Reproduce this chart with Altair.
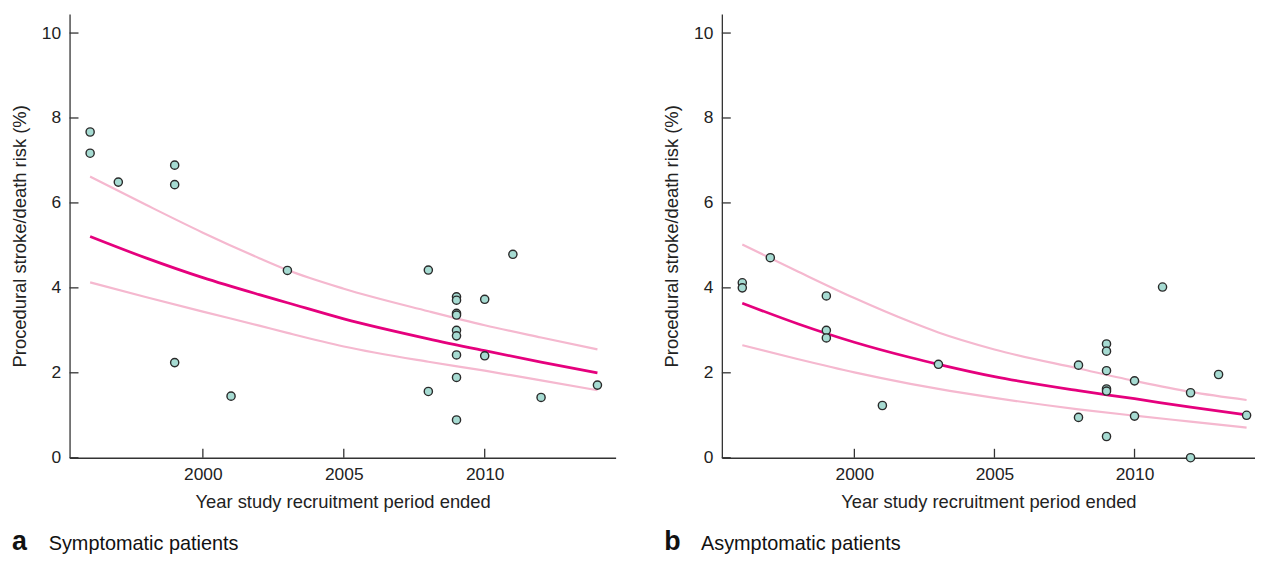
import altair as alt
import pandas as pd

# ---------------- data ----------------
# Panel a: symptomatic patients
a_years = [1996, 1996, 1997, 1999, 1999, 1999, 2001, 2003, 2008, 2008, 2009, 2009,
           2009, 2009, 2009, 2009, 2009, 2009, 2009, 2010, 2010, 2011, 2012, 2014]
a_risk = [7.67, 7.17, 6.49, 6.89, 6.43, 2.24, 1.45, 4.41, 4.42, 1.56, 3.79, 3.71,
          3.40, 3.36, 3.00, 2.87, 2.42, 1.89, 0.89, 3.73, 2.40, 4.79, 1.42, 1.71]
a_fit_years = [1996, 1998, 2000, 2002, 2003, 2005, 2008, 2010, 2012, 2014]
a_fit = [5.21, 4.70, 4.24, 3.84, 3.65, 3.27, 2.80, 2.52, 2.25, 2.00]
a_upper = [6.62, 5.95, 5.30, 4.70, 4.42, 3.98, 3.45, 3.12, 2.83, 2.55]
a_lower = [4.13, 3.78, 3.44, 3.11, 2.94, 2.62, 2.26, 2.05, 1.82, 1.59]

# Panel b: asymptomatic patients
b_years = [1996, 1996, 1997, 1999, 1999, 1999, 2001, 2003, 2008, 2008, 2009, 2009,
           2009, 2009, 2009, 2009, 2010, 2010, 2011, 2012, 2012, 2013, 2014]
b_risk = [4.12, 4.00, 4.71, 3.81, 3.00, 2.82, 1.23, 2.20, 2.18, 0.95, 2.68, 2.51,
          2.05, 1.62, 1.57, 0.50, 1.81, 0.98, 4.02, 1.53, 0.00, 1.96, 1.00]
b_fit_years = [1996, 1998, 2000, 2002, 2003, 2005, 2008, 2010, 2012, 2014]
b_fit = [3.64, 3.15, 2.72, 2.36, 2.20, 1.91, 1.58, 1.39, 1.19, 1.01]
b_upper = [5.02, 4.38, 3.76, 3.20, 2.95, 2.55, 2.10, 1.81, 1.55, 1.36]
b_lower = [2.65, 2.32, 2.01, 1.74, 1.62, 1.41, 1.14, 0.99, 0.85, 0.71]

y_ticks = [0, 2, 4, 6, 8, 10]
x_ticks = [2000, 2005, 2010]

FONT = "Liberation Sans"
MAGENTA = "#e5007d"
PINK = "#f5b8cf"
TEAL = "#a6dbd2"
AXIS = "#333333"
H = 447


def panel(years, risk, fy, fit, up, lo, xdom, width, letter, label):
    pts = pd.DataFrame({"year": years, "risk": risk})
    curves = pd.DataFrame({"year": fy, "fit": fit, "upper": up, "lower": lo})
    xs = alt.Scale(domain=xdom, nice=False, zero=False)
    ys = alt.Scale(domain=[0, 10.45], nice=False)
    xaxis = alt.Axis(values=x_ticks, format="d", ticks=False, grid=False,
                     labelPadding=8, title="Year study recruitment period ended",
                     titlePadding=10)
    yaxis = alt.Axis(values=y_ticks, ticks=False, grid=False, labelPadding=9,
                     title="Procedural stroke/death risk (%)", titlePadding=12)

    def X(f):
        return alt.X(f"{f}:Q", scale=xs, axis=xaxis)

    def Y(f):
        return alt.Y(f"{f}:Q", scale=ys, axis=yaxis)

    base = alt.Chart(curves)
    lower = base.mark_line(color=PINK, strokeWidth=2.2, interpolate="monotone").encode(
        x=X("year"), y=Y("lower"))
    upper = base.mark_line(color=PINK, strokeWidth=2.2, interpolate="monotone").encode(
        x=X("year"), y=Y("upper"))
    central = base.mark_line(color=MAGENTA, strokeWidth=2.8, interpolate="monotone").encode(
        x=X("year"), y=Y("fit"))
    points = alt.Chart(pts).mark_point(
        shape="circle", filled=True, fill=TEAL, stroke="#2a2a2a", strokeWidth=1.4,
        size=68, opacity=1).encode(x=X("year"), y=Y("risk"))

    yt = alt.Chart(pd.DataFrame({"v": y_ticks})).mark_rule(
        color=AXIS, strokeWidth=1.3).encode(
        y=alt.Y("v:Q", scale=ys, axis=yaxis), x=alt.value(0), x2=alt.value(9))
    xt = alt.Chart(pd.DataFrame({"v": x_ticks})).mark_rule(
        color=AXIS, strokeWidth=1.3).encode(
        x=alt.X("v:Q", scale=xs, axis=xaxis), y=alt.value(H), y2=alt.value(H - 9))

    t1 = alt.Chart(pd.DataFrame({"t": [letter]})).mark_text(
        align="left", baseline="alphabetic", fontSize=27, fontWeight="bold",
        font=FONT, color="#111").encode(text="t:N", x=alt.value(-58), y=alt.value(540))
    t2 = alt.Chart(pd.DataFrame({"t": [label]})).mark_text(
        align="left", baseline="alphabetic", fontSize=20, font=FONT,
        color="#111").encode(text="t:N", x=alt.value(-21), y=alt.value(540))

    return alt.layer(yt, xt, lower, upper, central, points, t1, t2).properties(
        width=width, height=H)


left = panel(a_years, a_risk, a_fit_years, a_fit, a_upper, a_lower,
             [1995.27, 2014.645], 550, "a", "Symptomatic patients")
right = panel(b_years, b_risk, b_fit_years, b_fit, b_upper, b_lower,
              [1995.27, 2014.3], 537, "b", "Asymptomatic patients")

chart = alt.hconcat(left, right, spacing=47).properties(
    padding={"left": 2, "top": 4, "right": 0, "bottom": 0},
    background="white",
).configure_view(stroke=None).configure_axis(
    domainColor=AXIS, domainWidth=1.3, labelFont=FONT, titleFont=FONT,
    labelFontSize=17.5, titleFontSize=18.5, labelColor="#222", titleColor="#222",
    titleFontWeight="normal",
)

chart.save("out.html", embed_options={"renderer": "svg", "actions": False})
